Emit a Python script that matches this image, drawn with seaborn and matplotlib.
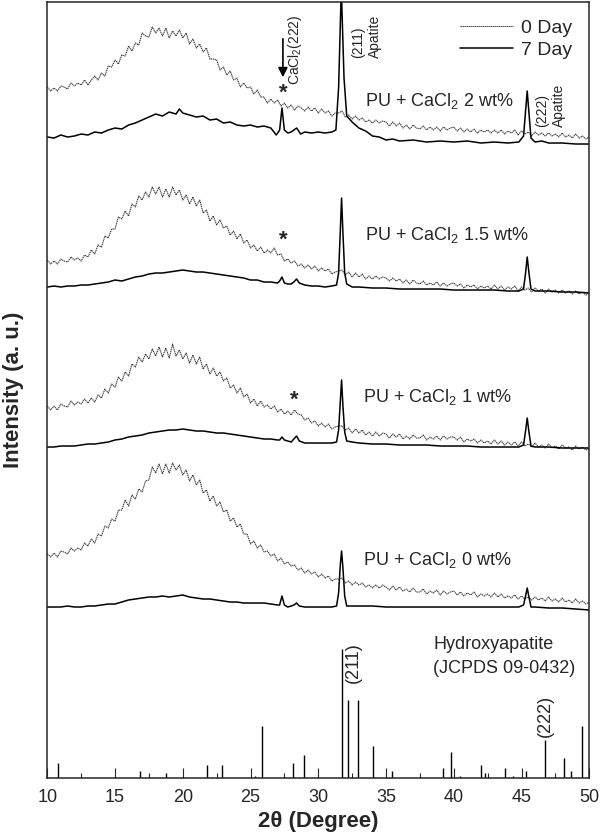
import numpy as np
import matplotlib
matplotlib.use("Agg")
import matplotlib.pyplot as plt
import seaborn as sns

sns.set_style("ticks")
plt.rcParams["font.family"] = ["Liberation Sans", "DejaVu Sans"]
plt.rcParams["mathtext.fontset"] = "custom"
plt.rcParams["mathtext.rm"] = "Liberation Sans"
plt.rcParams["mathtext.it"] = "Liberation Sans:italic"
plt.rcParams["mathtext.bf"] = "Liberation Sans:bold"

# ---- data (intensity in arbitrary units, curves already stacked) ----
# 0 Day scans, 0.25 deg step
scan_0d = np.arange(10, 50.001, 0.25)

i_0d_2wt = [
    691, 687, 690, 687, 692, 691, 689, 695, 692, 695,
    693, 698, 693, 698, 702, 698, 705, 702, 712, 711,
    718, 714, 723, 722, 732, 727, 735, 733, 745, 742,
    741, 751, 745, 750, 742, 750, 740, 747, 742, 748,
    740, 745, 734, 739, 730, 734, 726, 730, 719, 719,
    718, 708, 711, 703, 707, 698, 700, 691, 695, 690,
    691, 684, 688, 681, 681, 675, 679, 675, 678, 672,
    675, 670, 673, 668, 672, 670, 667, 671, 667, 670,
    665, 669, 665, 667, 662, 665, 665, 667, 661, 663,
    659, 662, 658, 660, 656, 658, 655, 658, 655, 657,
    656, 652, 656, 652, 655, 650, 653, 649, 653, 650,
    649, 652, 648, 651, 648, 651, 647, 651, 648, 650,
    651, 647, 650, 646, 649, 646, 649, 645, 648, 646,
    648, 645, 648, 645, 648, 644, 647, 645, 648, 643,
    647, 644, 646, 642, 646, 643, 645, 642, 645, 642,
    644, 641, 645, 641, 643, 640, 644, 640, 642, 639,
    641]

i_0d_15wt = [
    518, 514, 517, 514, 519, 517, 516, 521, 518, 520,
    517, 523, 521, 528, 524, 533, 531, 542, 540, 549,
    549, 561, 559, 567, 562, 574, 571, 582, 578, 586,
    581, 591, 584, 591, 581, 589, 581, 591, 583, 588,
    578, 583, 574, 581, 572, 578, 565, 568, 557, 562,
    553, 558, 550, 552, 543, 547, 539, 544, 535, 538,
    530, 533, 527, 531, 525, 528, 525, 530, 523, 524,
    517, 519, 515, 517, 512, 514, 510, 513, 509, 512,
    507, 510, 507, 509, 504, 506, 507, 508, 503, 506,
    501, 505, 501, 504, 499, 502, 499, 502, 499, 501,
    500, 497, 500, 497, 499, 495, 498, 494, 498, 495,
    494, 497, 493, 495, 493, 496, 492, 495, 492, 494,
    495, 492, 494, 490, 493, 491, 493, 489, 492, 490,
    492, 489, 493, 489, 492, 488, 491, 489, 492, 487,
    491, 488, 490, 486, 490, 487, 489, 485, 489, 486,
    488, 485, 488, 485, 487, 484, 487, 484, 486, 483,
    485]

i_0d_1wt = [
    372, 368, 372, 368, 374, 372, 371, 377, 373, 376,
    374, 379, 375, 380, 376, 383, 380, 389, 385, 394,
    391, 401, 397, 406, 402, 414, 411, 421, 416, 424,
    419, 429, 422, 431, 421, 430, 420, 434, 422, 428,
    419, 425, 415, 423, 414, 421, 409, 414, 404, 410,
    402, 406, 397, 400, 390, 393, 385, 390, 381, 384,
    375, 379, 372, 377, 371, 373, 369, 372, 366, 369,
    364, 367, 363, 368, 364, 363, 358, 360, 355, 357,
    352, 355, 351, 354, 349, 351, 352, 352, 348, 350,
    345, 349, 345, 348, 343, 346, 342, 346, 342, 345,
    344, 340, 344, 341, 344, 339, 342, 339, 343, 340,
    340, 343, 338, 341, 339, 342, 338, 342, 339, 341,
    341, 338, 341, 336, 339, 337, 339, 335, 338, 335,
    337, 334, 338, 334, 337, 333, 336, 333, 336, 332,
    336, 332, 334, 331, 335, 331, 333, 330, 334, 330,
    332, 329, 333, 330, 331, 328, 332, 329, 331, 328,
    329]

i_0d_0wt = [
    224, 221, 225, 221, 227, 226, 224, 230, 227, 230,
    228, 235, 232, 239, 235, 244, 242, 252, 250, 259,
    257, 268, 268, 278, 272, 283, 279, 289, 286, 297,
    298, 311, 305, 314, 304, 314, 305, 315, 308, 313,
    303, 308, 297, 303, 293, 298, 285, 288, 277, 282,
    272, 276, 266, 268, 257, 260, 251, 254, 244, 244,
    234, 237, 230, 233, 226, 227, 222, 224, 217, 220,
    214, 216, 212, 213, 208, 210, 205, 208, 204, 206,
    201, 204, 200, 202, 197, 199, 199, 200, 195, 197,
    193, 196, 193, 195, 191, 193, 190, 193, 190, 193,
    191, 188, 192, 188, 191, 187, 189, 186, 190, 186,
    186, 189, 184, 187, 185, 188, 183, 187, 184, 186,
    187, 183, 186, 182, 185, 183, 186, 181, 184, 182,
    184, 181, 185, 181, 184, 180, 182, 180, 183, 179,
    182, 179, 181, 178, 181, 178, 180, 177, 181, 177,
    179, 176, 180, 176, 178, 175, 179, 175, 177, 174,
    176]

# 7 Day scans
tt_7d_2wt = [10.0, 10.5, 11.0, 11.5, 12.0, 12.5, 13.0, 13.5, 14.0, 14.5,
             15.0, 15.5, 16.0, 16.5, 17.0, 17.5, 18.0, 18.5, 19.0, 19.5,
             19.75, 20.0, 20.5, 21.0, 21.5, 22.0, 22.5, 23.0, 23.5, 24.0,
             24.5, 25.0, 25.5, 26.0, 26.5, 26.9, 27.15, 27.32, 27.5, 27.75,
             28.0, 28.4, 28.7, 29.0, 29.5, 30.0, 30.5, 31.0, 31.3, 31.5,
             31.7, 31.9, 32.1, 32.5, 33.0, 33.5, 34.0, 34.5, 35.0, 35.5,
             36.0, 37.0, 38.0, 39.0, 40.0, 41.0, 42.0, 43.0, 44.0, 44.8,
             45.15, 45.42, 45.7, 46.0, 46.5, 47.0, 48.0, 49.0, 50.0]
i_7d_2wt = [641, 640, 643, 641, 642, 644, 643, 646, 645, 648,
            650, 649, 653, 655, 658, 661, 664, 662, 666, 664,
            669, 665, 663, 661, 662, 658, 659, 655, 656, 653,
            652, 653, 651, 652, 650, 643, 648, 670, 648, 645,
            646, 650, 644, 646, 645, 646, 645, 646, 648, 690,
            790, 700, 662, 656, 650, 647, 642, 641, 638, 639,
            637, 638, 636, 637, 636, 637, 635, 636, 635, 636,
            642, 687, 640, 636, 637, 635, 635, 634, 634]

tt_7d = [10.0, 10.5, 11.0, 11.5, 12.0, 12.5, 13.0, 13.5, 14.0, 14.5,
         15.0, 15.5, 16.0, 16.5, 17.0, 17.5, 18.0, 18.5, 19.0, 19.5,
         20.0, 20.5, 21.0, 21.5, 22.0, 22.5, 23.0, 23.5, 24.0, 24.5,
         25.0, 25.5, 26.0, 26.5, 27.0, 27.15, 27.32, 27.5, 27.75, 28.0,
         28.2, 28.4, 28.6, 29.0, 29.5, 30.0, 30.5, 31.0, 31.35, 31.5,
         31.62, 31.72, 31.82, 31.95, 32.1, 32.5, 33.0, 34.0, 35.0, 36.0,
         37.0, 38.0, 39.0, 40.0, 41.0, 42.0, 43.0, 44.0, 44.8, 45.15,
         45.3, 45.42, 45.55, 45.7, 46.0, 47.0, 48.0, 49.0, 50.0]
i_7d_15wt = [491, 492, 491, 492, 492, 493, 493, 494, 495, 496,
             498, 497, 499, 501, 502, 504, 505, 505, 506, 507,
             508, 507, 506, 506, 505, 504, 503, 502, 501, 500,
             498, 498, 496, 496, 495, 497, 501, 495, 494, 494,
             496, 499, 495, 493, 492, 492, 491, 492, 493, 505,
             545, 580, 545, 505, 494, 491, 491, 490, 490, 489,
             489, 489, 489, 488, 488, 488, 488, 487, 487, 489,
             505, 521, 505, 489, 487, 487, 486, 486, 485]
i_7d_1wt = [331, 331, 332, 332, 332, 333, 334, 334, 335, 336,
            338, 339, 341, 342, 343, 345, 346, 347, 348, 348,
            349, 348, 347, 347, 346, 345, 345, 344, 343, 342,
            341, 340, 339, 339, 338, 338, 341, 338, 337, 336,
            339, 342, 337, 335, 335, 335, 335, 335, 336, 348,
            375, 398, 372, 346, 337, 336, 335, 334, 334, 333,
            333, 333, 332, 332, 332, 331, 331, 331, 331, 333,
            347, 360, 346, 332, 331, 331, 330, 330, 330]
i_7d_0wt = [171, 171, 171, 172, 171, 171, 172, 172, 173, 174,
            174, 176, 178, 179, 180, 181, 181, 182, 181, 182,
            183, 181, 180, 179, 179, 178, 177, 176, 176, 175,
            175, 175, 175, 174, 173, 173, 182, 173, 171, 172,
            173, 175, 172, 171, 171, 171, 171, 171, 172, 185,
            212, 227, 210, 182, 172, 172, 172, 172, 171, 171,
            171, 171, 171, 171, 171, 171, 171, 171, 171, 173,
            182, 190, 181, 171, 171, 170, 170, 169, 168]

# Hydroxyapatite reference (JCPDS 09-0432) stick pattern
hap_tt = [10.77, 16.84, 18.76, 21.81, 22.89, 25.33, 25.87, 28.13, 28.94,
          31.75, 32.21, 32.95, 34.06, 35.42, 39.18, 39.82, 40.46, 42.03,
          42.32, 43.80, 44.37, 45.33, 46.73, 48.11, 48.63, 49.48]
hap_i = [15, 7, 5, 13, 13, 2, 52, 15, 23,
         129, 78, 78, 32, 7, 10, 26, 2, 13,
         5, 10, 2, 7, 38, 20, 7, 52]

sample_labels = ["PU + CaCl$_2$ 2 wt%", "PU + CaCl$_2$ 1.5 wt%",
                 "PU + CaCl$_2$ 1 wt%", "PU + CaCl$_2$ 0 wt%"]
label_pos = [(33.45, 672), (33.45, 538), (33.33, 376), (33.33, 213)]

# ---- plot ----
fig = plt.figure(figsize=(6, 8.4), dpi=100)
ax = fig.add_axes([0.0788, 0.0738, 0.9033, 0.9238])

day0 = dict(color="#3a3a3a", lw=0.8, linestyle=(0, (1.2, 0.6)))
day7 = dict(color="black", lw=1.1)

sns.lineplot(x=scan_0d, y=i_0d_2wt, ax=ax, label="0 Day", **day0)
sns.lineplot(x=tt_7d_2wt, y=i_7d_2wt, ax=ax, label="7 Day", **day7)
for ys in [i_0d_15wt, i_0d_1wt, i_0d_0wt]:
    sns.lineplot(x=scan_0d, y=ys, ax=ax, **day0)
for ys in [i_7d_15wt, i_7d_1wt, i_7d_0wt]:
    sns.lineplot(x=tt_7d, y=ys, ax=ax, **day7)

ax.vlines(hap_tt, 0, hap_i, color="black", lw=1.0)

for txt, (xp, yp) in zip(sample_labels, label_pos):
    ax.text(xp, yp, txt, fontsize=13, ha="left", va="baseline")

ax.text(38.47, 129, "Hydroxyapatite", fontsize=13, ha="left", va="baseline")
ax.text(38.47, 105, "(JCPDS 09-0432)", fontsize=13, ha="left", va="baseline")
ax.text(32.62, 115, "(211)", fontsize=13, rotation=90, ha="center", va="center")
ax.text(46.77, 62, "(222)", fontsize=13, rotation=90, ha="center", va="center")

ax.text(33.53, 720, "(211)\nApatite", fontsize=10, rotation=90,
        ha="center", va="bottom", multialignment="left", linespacing=1.25)
ax.text(47.17, 651, "(222)\nApatite", fontsize=10, rotation=90,
        ha="center", va="bottom", multialignment="left", linespacing=1.25)
ax.text(28.3, 693, "CaCl$_2$(222)", fontsize=10, rotation=90,
        ha="center", va="bottom")
ax.annotate("", xy=(27.39, 698), xytext=(27.39, 742),
            arrowprops=dict(arrowstyle="-|>", color="black", lw=1.2,
                            mutation_scale=14))
for xs, ys in [(27.39, 685), (27.4, 538), (28.2, 378)]:
    ax.text(xs, ys, "*", fontsize=16, fontweight="bold", ha="center", va="center")

ax.set_xlim(10, 50)
ax.set_ylim(0, 776)
ax.set_xticks([10, 15, 20, 25, 30, 35, 40, 45, 50])
ax.set_xticks(np.arange(12.5, 50, 5), minor=True)
ax.set_yticks([])
ax.tick_params(axis="x", which="major", direction="in", length=7.2, width=0.8,
               labelsize=13, pad=8)
ax.tick_params(axis="x", which="minor", direction="in", length=3.6, width=0.8)
for sp in ax.spines.values():
    sp.set_linewidth(1.1)
    sp.set_visible(True)

ax.set_xlabel("2θ (Degree)", fontsize=16, fontweight="bold")
ax.set_ylabel("Intensity (a. u.)", fontsize=16, fontweight="bold")
ax.xaxis.set_label_coords(0.5, -0.042)
ax.yaxis.set_label_coords(-0.043, 0.5)

ax.legend(loc="upper right", frameon=False, fontsize=14, handlelength=2.7,
          handletextpad=0.4, labelspacing=0.2, borderaxespad=0.5)

fig.savefig("out.png", dpi=100)
